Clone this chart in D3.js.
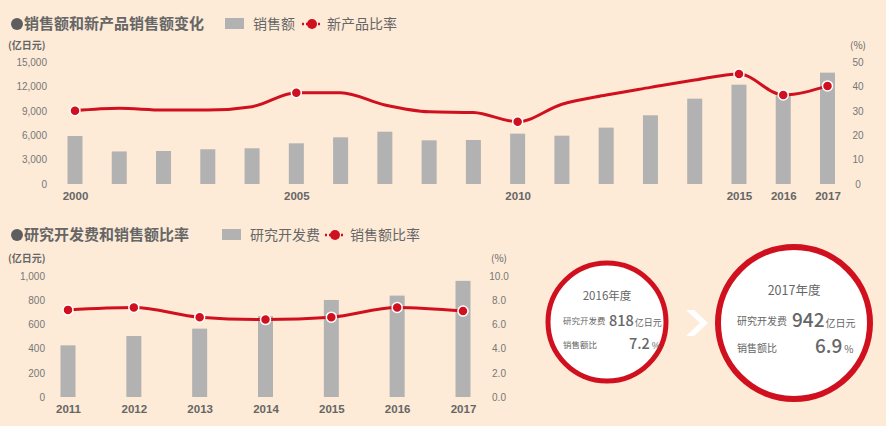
<!DOCTYPE html>
<html>
<head>
<meta charset="utf-8">
<script src="https://cdn.jsdelivr.net/npm/d3@7"></script>
<style>
  body { margin: 0; background: #fdebd7; }
  svg { display: block; font-family: "Noto Sans CJK SC", "Noto Sans", sans-serif; }
  .tick text { fill: #777; font-size: 10px; }
  .xlab .tick text { fill: #666; font-size: 11.5px; font-weight: bold; }
</style>
</head>
<body>
<svg id="chart" width="886" height="426"></svg>
<script>
// top chart: sales and new product ratio
const salesYears = d3.range(2000, 2018)
const salesValues = [5900, 4000, 4060, 4270, 4390, 5000, 5740, 6430, 5370, 5410, 6190, 5940, 6930, 8450, 10490, 12210, 10900, 13690]
const newRatio = [30, 31, 30.3, 30.3, 31.7, 37.4, 37.4, 32.4, 29.6, 29.3, 25.5, 32.7, 36.5, 39.6, 42.6, 45.1, 36.5, 40.2]
const ratioMarked = [2000, 2005, 2010, 2015, 2016, 2017]
const salesTickLabels = [2000, 2005, 2010, 2015, 2016, 2017]

// bottom chart: R&D cost and ratio to sales
const rdYears = [2011, 2012, 2013, 2014, 2015, 2016, 2017]
const rdValues = [427, 504, 565, 668, 802, 838, 960]
const rdRatio = [7.2, 7.4, 6.6, 6.4, 6.6, 7.4, 7.1]

// summary circles
const summary = [
    { label: '2016年度', rd: '818', ratio: '7.2' },
    { label: '2017年度', rd: '942', ratio: '6.9' }
]

const red = '#d0101e'
const grey = '#b2b2b2'
const textGrey = '#666'

const svg = d3.select('#chart')

svg.append('rect').attr('width', 886).attr('height', 426).attr('fill', '#fdebd7')

const addTitle = (g, x, y, title, barName, lineName, legX, lineX) => {
    g.append('circle').attr('cx', x + 6).attr('cy', y - 5).attr('r', 6).attr('fill', '#5e5e5e')
    g.append('text').text(title).attr('x', x + 13).attr('y', y)
        .attr('font-size', 15).attr('font-weight', 'bold').attr('fill', textGrey)
    g.append('rect').attr('x', legX).attr('y', y - 11).attr('width', 19).attr('height', 11).attr('fill', grey)
    g.append('text').text(barName).attr('x', legX + 28).attr('y', y)
        .attr('font-size', 14).attr('fill', textGrey)
    g.append('line').attr('x1', lineX).attr('x2', lineX + 20).attr('y1', y - 5).attr('y2', y - 5)
        .attr('stroke', red).attr('stroke-width', 2.5).attr('stroke-dasharray', '2,2')
    g.append('circle').attr('cx', lineX + 10).attr('cy', y - 5).attr('r', 5).attr('fill', red)
    g.append('text').text(lineName).attr('x', lineX + 25).attr('y', y)
        .attr('font-size', 14).attr('fill', textGrey)
}

const drawChart = (cfg) => {
    const g = svg.append('g')
    addTitle(g, 11, cfg.titleY, cfg.title, cfg.barName, cfg.lineName, cfg.legX, cfg.lineX)

    g.append('text').text('(亿日元)').attr('x', 8).attr('y', cfg.unitY)
        .attr('font-size', 10).attr('font-weight', 'bold').attr('fill', textGrey)
    g.append('text').text('(%)').attr('x', cfg.right + 12).attr('y', cfg.unitY)
        .attr('text-anchor', 'middle').attr('font-size', 10).attr('fill', textGrey)

    const x = d3.scalePoint().domain(cfg.years).range(cfg.xRange)
    const yL = d3.scaleLinear().domain(cfg.leftDomain).range([cfg.bottom, cfg.top])
    const yR = d3.scaleLinear().domain(cfg.rightDomain).range([cfg.bottom, cfg.top])

    const axL = g.append('g').attr('transform', `translate(${cfg.leftAxisX},0)`)
        .call(d3.axisLeft(yL).tickValues(cfg.leftTicks).tickSize(0).tickPadding(0).tickFormat(d3.format(',')))
    axL.select('.domain').remove()

    const axR = g.append('g').attr('transform', `translate(${cfg.right},0)`)
        .call(d3.axisRight(yR).tickValues(cfg.rightTicks).tickSize(0).tickPadding(0).tickFormat(cfg.rightFormat))
    axR.select('.domain').remove()
    axR.selectAll('.tick text').attr('text-anchor', 'middle').attr('x', 12)

    const axX = g.append('g').attr('class', 'xlab').attr('transform', `translate(0,${cfg.bottom + 6})`)
        .call(d3.axisBottom(x).tickValues(cfg.xTicks).tickSize(0).tickPadding(0).tickFormat(d3.format('d')))
    axX.select('.domain').remove()
    axX.selectAll('.tick text').attr('dy', '0.9em')

    g.selectAll('.bar').data(cfg.bars).join('rect')
        .attr('class', 'bar')
        .attr('x', (d, i) => x(cfg.years[i]) - 7.5)
        .attr('width', 15)
        .attr('y', d => yL(d))
        .attr('height', d => yL(0) - yL(d))
        .attr('fill', grey)

    const pts = cfg.years.map((yr, i) => ({ yr, v: cfg.line[i] }))
    const line = d3.line().x(d => x(d.yr)).y(d => yR(d.v)).curve(d3.curveMonotoneX)
    g.append('path').datum(pts).attr('d', line)
        .attr('fill', 'none').attr('stroke', red).attr('stroke-width', 3)

    g.selectAll('.dot').data(pts.filter(d => cfg.marked.includes(d.yr))).join('circle')
        .attr('class', 'dot')
        .attr('cx', d => x(d.yr)).attr('cy', d => yR(d.v)).attr('r', 5)
        .attr('fill', red).attr('stroke', '#fff').attr('stroke-width', 1.5)
}

drawChart({
    title: '销售额和新产品销售额变化', barName: '销售额', lineName: '新产品比率',
    titleY: 29, legX: 225, lineX: 302, unitY: 49,
    years: salesYears, bars: salesValues, line: newRatio, marked: ratioMarked,
    xTicks: salesTickLabels, xRange: [75, 827.5],
    top: 62, bottom: 184, leftAxisX: 47, right: 846,
    leftDomain: [0, 15000], leftTicks: [0, 3000, 6000, 9000, 12000, 15000],
    rightDomain: [0, 50], rightTicks: [0, 10, 20, 30, 40, 50], rightFormat: d3.format('d')
})

drawChart({
    title: '研究开发费和销售额比率', barName: '研究开发费', lineName: '销售额比率',
    titleY: 240, legX: 222, lineX: 325, unitY: 262,
    years: rdYears, bars: rdValues, line: rdRatio, marked: rdYears,
    xTicks: rdYears, xRange: [68, 463],
    top: 276, bottom: 397, leftAxisX: 45, right: 487,
    leftDomain: [0, 1000], leftTicks: [0, 200, 400, 600, 800, 1000],
    rightDomain: [0, 10], rightTicks: [0, 2, 4, 6, 8, 10], rightFormat: d3.format('.1f')
})

// summary circles
const circleLayout = [
    { cx: 607, cy: 322, r: 59, sw: 5, labelSize: 11.5, small: 8.5, unit: 9, big: 14.5,
      dy: [-22, 2, 26], lx: -44, numX: 2, ratioX: 22 },
    { cx: 794, cy: 323, r: 76, sw: 6, labelSize: 12.5, small: 10, unit: 10, big: 19,
      dy: [-28, 2, 29], lx: -57, numX: -2, ratioX: 21 }
]

summary.forEach((s, i) => {
    const L = circleLayout[i]
    const g = svg.append('g').attr('transform', `translate(${L.cx},${L.cy})`)
    g.append('circle').attr('r', L.r).attr('fill', '#fff').attr('stroke', red).attr('stroke-width', L.sw)
    g.append('text').text(s.label).attr('y', L.dy[0]).attr('text-anchor', 'middle')
        .attr('font-size', L.labelSize).attr('fill', textGrey)
    g.append('text').text('研究开发费').attr('x', L.lx).attr('y', L.dy[1])
        .attr('font-size', L.small).attr('fill', textGrey)
    const t1 = g.append('text').attr('x', L.numX).attr('y', L.dy[1] + 2).attr('fill', textGrey)
    t1.append('tspan').text(s.rd).attr('font-size', L.big).attr('font-weight', 500)
    t1.append('tspan').text('亿日元').attr('font-size', L.unit).attr('dx', 1)
    g.append('text').text('销售额比').attr('x', L.lx).attr('y', L.dy[2])
        .attr('font-size', L.small).attr('fill', textGrey)
    const t2 = g.append('text').attr('x', L.ratioX).attr('y', L.dy[2] + 1).attr('fill', textGrey)
    t2.append('tspan').text(s.ratio).attr('font-size', L.big).attr('font-weight', 500)
    t2.append('tspan').text('%').attr('font-size', L.unit).attr('dx', 2)
})

// chevron between circles
svg.append('path').attr('d', 'M686,310 L700,323 L686,336 L694,336 L708,323 L694,310 Z').attr('fill', '#fff')
</script>
</body>
</html>
